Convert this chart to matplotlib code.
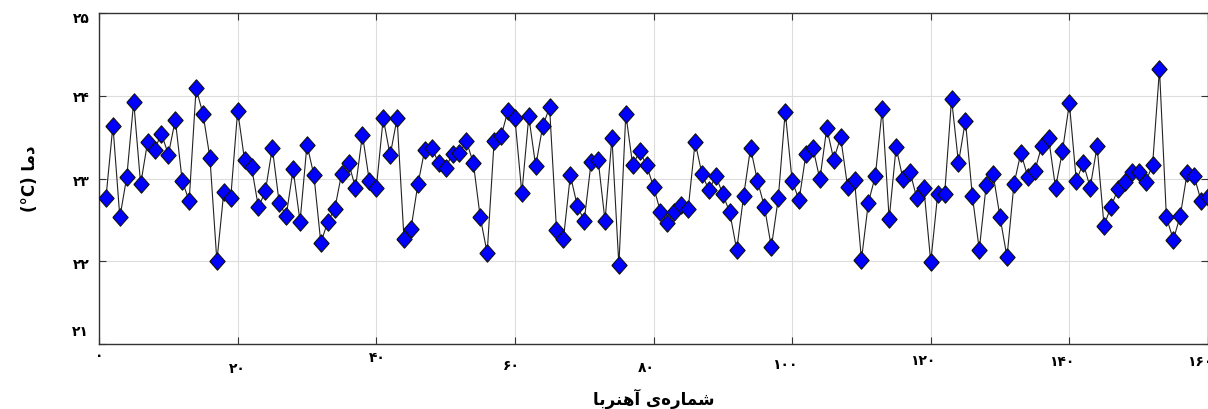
import matplotlib
matplotlib.use('Agg')
from matplotlib import pyplot as plt
from matplotlib.transforms import ScaledTranslation

plt.rcParams['font.family'] = ['DejaVu Sans']

# شماره‌ی آهنربا و دمای اندازه‌گیری شده
magnet_no = list(range(1, 161))
temperature = [
    22.77, 23.64, 22.53, 23.02, 23.93, 22.93, 23.44, 23.35, 23.54, 23.29,
    23.71, 22.97, 22.73, 24.09, 23.78, 23.25, 22.00, 22.84, 22.77, 23.82,
    23.22, 23.14, 22.65, 22.85, 23.37, 22.70, 22.55, 23.11, 22.48, 23.41,
    23.04, 22.22, 22.48, 22.63, 23.06, 23.19, 22.89, 23.53, 22.97, 22.88,
    23.73, 23.28, 23.73, 22.27, 22.39, 22.93, 23.35, 23.37, 23.19, 23.13,
    23.30, 23.31, 23.45, 23.19, 22.53, 22.10, 23.45, 23.51, 23.82, 23.73,
    22.82, 23.75, 23.15, 23.63, 23.86, 22.38, 22.27, 23.04, 22.67, 22.49,
    23.20, 23.23, 22.49, 23.49, 21.95, 23.78, 23.16, 23.33, 23.16, 22.90,
    22.60, 22.46, 22.59, 22.68, 22.63, 23.44, 23.05, 22.86, 23.03, 22.81,
    22.59, 22.14, 22.79, 23.37, 22.97, 22.66, 22.17, 22.76, 23.81, 22.97,
    22.74, 23.30, 23.37, 22.99, 23.61, 23.23, 23.50, 22.90, 22.98, 22.02,
    22.71, 23.03, 23.84, 22.51, 23.38, 22.99, 23.08, 22.76, 22.89, 21.99,
    22.81, 22.81, 23.96, 23.19, 23.70, 22.79, 22.14, 22.92, 23.05, 22.53,
    22.05, 22.93, 23.31, 23.02, 23.09, 23.39, 23.49, 22.89, 23.33, 23.91,
    22.97, 23.19, 22.89, 23.39, 22.43, 22.66, 22.87, 22.96, 23.08, 23.08,
    22.96, 23.16, 24.32, 22.53, 22.26, 22.55, 23.07, 23.03, 22.73, 22.78,
]

x_ticks = [0, 20, 40, 60, 80, 100, 120, 140, 160]
y_ticks = [21, 22, 23, 24, 25]

# ارقام فارسی
fa_digits = str.maketrans('0123456789', '۰۱۲۳۴۵۶۷۸۹')


def fa(n):
    return str(n).translate(fa_digits)


# متن‌ها به صورت شکل‌های نمایشی و به ترتیب دیداری (چپ به راست)
x_title = 'ﺎﺑﺮﻨﻫﺁ ﻯﻩﺭﺎﻤﺷ'      # شماره‌ی آهنربا
y_title = '(°C) ﺎﻣﺩ'               # دما (°C)

# لوزی کمی کشیده‌تر از 'D'
diamond = [(-0.44, 0), (0, 0.5), (0.44, 0), (0, -0.5), (-0.44, 0)]

fig, ax = plt.subplots(figsize=(12.08, 4.09), dpi=100)
fig.subplots_adjust(left=0.082, right=1.0, bottom=0.159, top=0.968)

ax.plot(magnet_no, temperature, color='#222222', lw=0.8, marker=diamond,
        markersize=12.5, markerfacecolor='#0000ff', markeredgecolor='#111111',
        markeredgewidth=0.8, zorder=3)

ax.set_xlim(0, 160)
ax.set_ylim(21, 25)
ax.set_xticks(x_ticks, [fa(t) for t in x_ticks])
ax.set_yticks(y_ticks, [fa(t) for t in y_ticks])
ax.grid(True, color='#dddddd', lw=0.8)
ax.set_axisbelow(True)
ax.tick_params(direction='in', length=5, width=0.8, top=True, right=True,
               color='#333333', labelsize=10)
for s in ax.spines.values():
    s.set_color('#333333')
    s.set_linewidth(1.0)

# جابه‌جایی اندک برچسب‌ها مانند تصویر اصلی (پیکسل)
x_shift = [(0, 0), (0, -13), (1, -2), (-4, -10), (-7, -12),
           (-7, -9), (-8, -5), (-8, -6), (-8, -6)]
for lab, (dx, dy) in zip(ax.get_xticklabels(), x_shift):
    lab.set_fontweight('bold')
    lab.set_transform(lab.get_transform() +
                      ScaledTranslation(dx / 100, dy / 100, fig.dpi_scale_trans))
y_shift = [(-5, 13), (-5, -2), (-5, -2), (-5, -1), (-5, -4)]
for lab, (dx, dy) in zip(ax.get_yticklabels(), y_shift):
    lab.set_fontweight('bold')
    lab.set_transform(lab.get_transform() +
                      ScaledTranslation(dx / 100, dy / 100, fig.dpi_scale_trans))

ax.set_xlabel(x_title, fontsize=12, fontweight='bold', labelpad=9)
ax.set_ylabel(y_title, fontsize=12, fontweight='bold', labelpad=24)

fig.savefig('out.png', dpi=100)
